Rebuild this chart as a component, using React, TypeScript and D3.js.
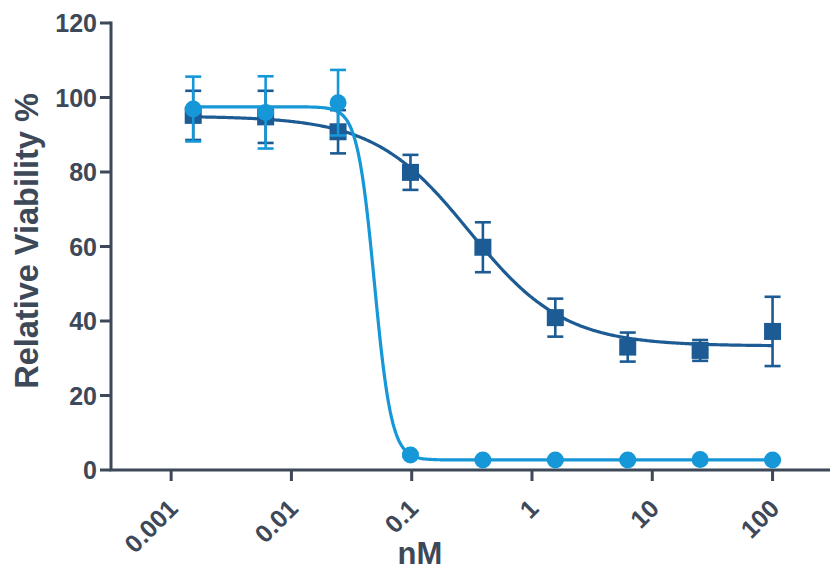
import React from "react";
import * as d3 from "d3";

// Concentrations (nM), 4-fold dilution series
const concentrations = [0.00152588, 0.00610352, 0.0244141, 0.0976563, 0.390625, 1.5625, 6.25, 25, 100];

// Series A (squares): mean relative viability and SD
const seriesAMean = [95.2, 94.8, 90.8, 79.9, 59.8, 40.9, 33.0, 32.1, 37.2];
const seriesASd = [6.6, 7.0, 5.8, 4.7, 6.7, 5.1, 3.9, 2.8, 9.3];

// Series B (circles): mean relative viability and SD
const seriesBMean = [96.9, 96.0, 98.6, 4.0, 2.7, 2.7, 2.7, 2.8, 2.7];
const seriesBSd = [8.7, 9.7, 8.8, 0.5, 0.3, 0.3, 0.3, 0.3, 0.3];

// Four-parameter logistic fit parameters [top, bottom, IC50, hill]
const fitA = [95.0, 33.3, 0.3, 1.1];
const fitB = [97.5, 2.7, 0.049, 6.1];

const yTicks = [0, 20, 40, 60, 80, 100, 120];
const xTicks = [0.001, 0.01, 0.1, 1, 10, 100];
const xTickLabels = ["0.001", "0.01", "0.1", "1", "10", "100"];

const W = 830;
const H = 569;
const AXIS = "#3d4858";
const DARK = "#1c5b93";
const LIGHT = "#1597d8";
const FONT = "'Liberation Sans', Arial, Helvetica, sans-serif";

const x = d3.scaleLog().domain([Math.pow(10, -3.5), Math.pow(10, 2.5)]).range([111, 832.7]);
const y = d3.scaleLinear().domain([0, 120]).range([470, 23]);

function logistic(p: number[], c: number) {
  const [top, bottom, ic50, hill] = p;
  return bottom + (top - bottom) / (1 + Math.pow(c / ic50, hill));
}

function fitPath(p: number[]) {
  const lo = Math.log10(concentrations[0]);
  const hi = Math.log10(concentrations[concentrations.length - 1]);
  const pts = d3.range(0, 401).map((i) => {
    const c = Math.pow(10, lo + ((hi - lo) * i) / 400);
    return [c, logistic(p, c)] as [number, number];
  });
  return d3
    .line<[number, number]>()
    .x((d) => x(d[0]))
    .y((d) => y(d[1]))(pts) as string;
}

function ErrorBars({ means, sds, color }: { means: number[]; sds: number[]; color: string }) {
  const cap = 8;
  return (
    <g stroke={color} strokeWidth={2.6} fill="none">
      {concentrations.map((c, i) => {
        const cx = x(c);
        const y1 = y(means[i] + sds[i]);
        const y2 = y(means[i] - sds[i]);
        return (
          <g key={i}>
            <line x1={cx} x2={cx} y1={y1} y2={y2} />
            <line x1={cx - cap} x2={cx + cap} y1={y1} y2={y1} />
            <line x1={cx - cap} x2={cx + cap} y1={y2} y2={y2} />
          </g>
        );
      })}
    </g>
  );
}

export default function App() {
  const s = 8.5;
  return (
    <svg
      width={W}
      height={H}
      viewBox={`0 0 ${W} ${H}`}
      style={{ position: "absolute", left: 0, top: 0, background: "#fff" }}
    >
      <rect width={W} height={H} fill="#fff" />

      {/* axes */}
      <g stroke={AXIS} strokeWidth={3} fill="none">
        <line x1={111} x2={111} y1={y(120) - 1.5} y2={y(0)} />
        <line x1={109.5} x2={W} y1={y(0)} y2={y(0)} />
        {yTicks.map((t) => (
          <line key={t} x1={100} x2={111} y1={y(t)} y2={y(t)} />
        ))}
        {xTicks.map((t) => (
          <line key={t} x1={x(t)} x2={x(t)} y1={y(0)} y2={y(0) + 11} />
        ))}
      </g>

      <g fill={AXIS} fontFamily={FONT} fontWeight="bold">
        {yTicks.map((t) => (
          <text key={t} x={97} y={y(t)} dy="0.36em" textAnchor="end" fontSize={25}>
            {t}
          </text>
        ))}
        {xTicks.map((t, i) => (
          <text
            key={t}
            transform={`translate(${x(t) + 2},${y(0) + 34}) rotate(-45)`}
            textAnchor="end"
            dy="0.35em"
            fontSize={25}
          >
            {xTickLabels[i]}
          </text>
        ))}
        <text x={420} y={564} textAnchor="middle" fontSize={31}>
          nM
        </text>
        <text
          transform={`translate(38,241) rotate(-90)`}
          textAnchor="middle"
          fontSize={32.5}
        >
          Relative Viability %
        </text>
      </g>

      {/* series A */}
      <path d={fitPath(fitA)} fill="none" stroke={DARK} strokeWidth={3.2} />
      <ErrorBars means={seriesAMean} sds={seriesASd} color={DARK} />
      <g fill={DARK}>
        {concentrations.map((c, i) => (
          <rect key={i} x={x(c) - s} y={y(seriesAMean[i]) - s} width={2 * s} height={2 * s} />
        ))}
      </g>

      {/* series B */}
      <path d={fitPath(fitB)} fill="none" stroke={LIGHT} strokeWidth={3.2} />
      <ErrorBars means={seriesBMean} sds={seriesBSd} color={LIGHT} />
      <g fill={LIGHT}>
        {concentrations.map((c, i) => (
          <circle key={i} cx={x(c)} cy={y(seriesBMean[i])} r={8.5} />
        ))}
      </g>
    </svg>
  );
}
